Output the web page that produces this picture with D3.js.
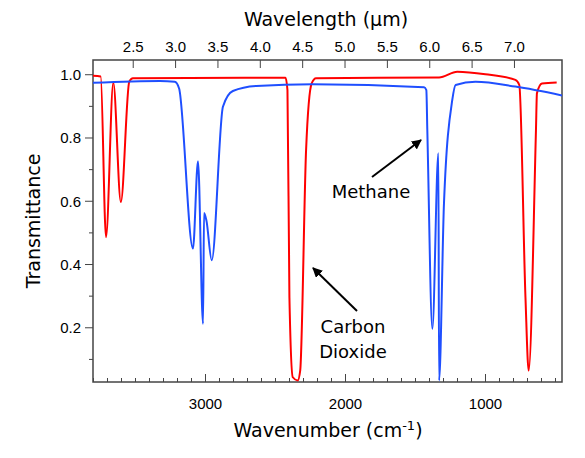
<!DOCTYPE html>
<html>
<head>
<meta charset="utf-8">
<script src="https://cdn.jsdelivr.net/npm/d3@7"></script>
<style>
body { margin: 0; background: #fff; }
svg { font-family: "DejaVu Sans", sans-serif; }
</style>
</head>
<body>
<svg width="585" height="458"></svg>
<script>
// данные: волновое число (см^-1) и пропускание
const co2Wn = [3800, 3745, 3707, 3655, 3601, 3541, 3515, 2425, 2411, 2397, 2373, 2338, 2320, 2278, 2238, 2207, 1328, 1198, 997, 783, 755, 711, 688, 636, 629, 593, 488];
const co2T  = [0.995, 0.993, 0.485, 0.973, 0.596, 0.976, 0.987, 0.989, 0.95, 0.295, 0.042, 0.032, 0.063, 0.76, 0.971, 0.987, 0.990, 1.008, 1.0, 0.982, 0.966, 0.295, 0.063, 0.823, 0.94, 0.971, 0.974];

const ch4Wn = [3800, 3323, 3216, 3185, 3086, 3050, 3014, 3007, 2990, 2952, 2872, 2801, 2634, 2231, 1435, 1419, 1412, 1376, 1333, 1328, 1293, 1234, 1210, 1068, 783, 450];
const ch4T  = [0.973, 0.979, 0.976, 0.955, 0.449, 0.725, 0.211, 0.561, 0.538, 0.412, 0.897, 0.947, 0.963, 0.968, 0.959, 0.95, 0.823, 0.195, 0.75, 0.032, 0.592, 0.918, 0.966, 0.976, 0.961, 0.933];

const wnTicks = [3000, 2000, 1000];
const wlTicks = [2.5, 3.0, 3.5, 4.0, 4.5, 5.0, 5.5, 6.0, 6.5, 7.0];
const yTicks = [0.2, 0.4, 0.6, 0.8, 1.0];

const svg = d3.select("svg");
const area = { left: 93, right: 562, top: 60, bottom: 382 };

const scX = d3.scaleLinear().domain([3800, 450]).range([area.left, area.right]);
const scWl = d3.scaleLinear().domain([2.031, 7.567]).range([area.left, area.right]);
const scY = d3.scaleLinear().domain([0.027, 1.045]).range([area.bottom, area.top]);

const axisColor = "#444";
const isMajor = d => wnTicks.includes(d);

// нижняя ось (засечки внутрь)
const gB = svg.append("g").attr("transform", `translate(0,${area.bottom})`);
gB.call(d3.axisBottom(scX).tickValues(d3.range(3800, 449, -100)).tickSize(-4).tickFormat(""));
gB.call(g => g.selectAll(".tick line").filter(isMajor).attr("y2", -8));
gB.selectAll(".tick").filter(isMajor).append("text")
  .attr("y", 27).attr("fill", "#000").attr("font-size", 15).attr("text-anchor", "middle")
  .text(d => d);

// верхняя ось (длина волны)
const gT = svg.append("g").attr("transform", `translate(0,${area.top})`);
gT.call(d3.axisTop(scWl).tickValues(wlTicks).tickSize(-8).tickFormat(d3.format(".1f")));
gT.selectAll("text").attr("y", -8).attr("font-size", 15).attr("fill", "#000");

// левая ось
const gL = svg.append("g").attr("transform", `translate(${area.left},0)`);
gL.call(d3.axisLeft(scY).tickValues(d3.range(0.1, 1.01, 0.1)).tickSize(4).tickFormat(""));
const isMajorY = d => yTicks.some(t => Math.abs(t - d) < 1e-6);
gL.call(g => g.selectAll(".tick line").filter(isMajorY).attr("x2", -8));
gL.selectAll(".tick").filter(isMajorY).append("text")
  .attr("x", -12).attr("dy", "0.35em").attr("fill", "#000").attr("font-size", 15).attr("text-anchor", "end")
  .text(d => d.toFixed(1));

svg.selectAll(".domain").remove();
svg.selectAll(".tick line").attr("stroke", axisColor);

// рамка
svg.append("rect")
  .attr("x", area.left).attr("y", area.top)
  .attr("width", area.right - area.left).attr("height", area.bottom - area.top)
  .attr("fill", "none").attr("stroke", axisColor).attr("stroke-width", 1.5);

// линии
const line = d3.line().x(d => scX(d[0])).y(d => scY(d[1])).curve(d3.curveMonotoneX);
svg.append("clipPath").attr("id", "clip").append("rect")
  .attr("x", area.left).attr("y", area.top).attr("width", area.right - area.left).attr("height", area.bottom - area.top);

svg.append("path").datum(d3.zip(co2Wn, co2T)).attr("d", line)
  .attr("fill", "none").attr("stroke", "#ff0000").attr("stroke-width", 2).attr("clip-path", "url(#clip)");
svg.append("path").datum(d3.zip(ch4Wn, ch4T)).attr("d", line)
  .attr("fill", "none").attr("stroke", "#1f4fff").attr("stroke-width", 2).attr("clip-path", "url(#clip)");

// стрелки
svg.append("defs").append("marker").attr("id", "arr")
  .attr("viewBox", "0 0 10 10").attr("refX", 9).attr("refY", 5)
  .attr("markerWidth", 5).attr("markerHeight", 5).attr("orient", "auto")
  .append("path").attr("d", "M0,0 L10,5 L0,10 z").attr("fill", "#000");

function arrow(x1, y1, x2, y2) {
  svg.append("line").attr("x1", x1).attr("y1", y1).attr("x2", x2).attr("y2", y2)
    .attr("stroke", "#000").attr("stroke-width", 2).attr("marker-end", "url(#arr)");
}
arrow(372, 177, 421, 140);
arrow(357, 311, 313, 268);

svg.append("text").attr("x", 371).attr("y", 198).attr("text-anchor", "middle").attr("font-size", 18).text("Methane");
svg.append("text").attr("x", 353).attr("y", 333).attr("text-anchor", "middle").attr("font-size", 18).text("Carbon");
svg.append("text").attr("x", 353).attr("y", 358).attr("text-anchor", "middle").attr("font-size", 18).text("Dioxide");

// подписи осей
const xl = svg.append("text").attr("x", 328).attr("y", 437).attr("text-anchor", "middle").attr("font-size", 19);
xl.append("tspan").text("Wavenumber (cm");
xl.append("tspan").attr("dy", -7).attr("font-size", 13).text("-1");
xl.append("tspan").attr("dy", 7).text(")");
svg.append("text").attr("x", 326).attr("y", 26).attr("text-anchor", "middle").attr("font-size", 19).text("Wavelength (\u00b5m)");
svg.append("text").attr("transform", "translate(40,221) rotate(-90)").attr("text-anchor", "middle").attr("font-size", 19).text("Transmittance");
</script>
</body>
</html>
